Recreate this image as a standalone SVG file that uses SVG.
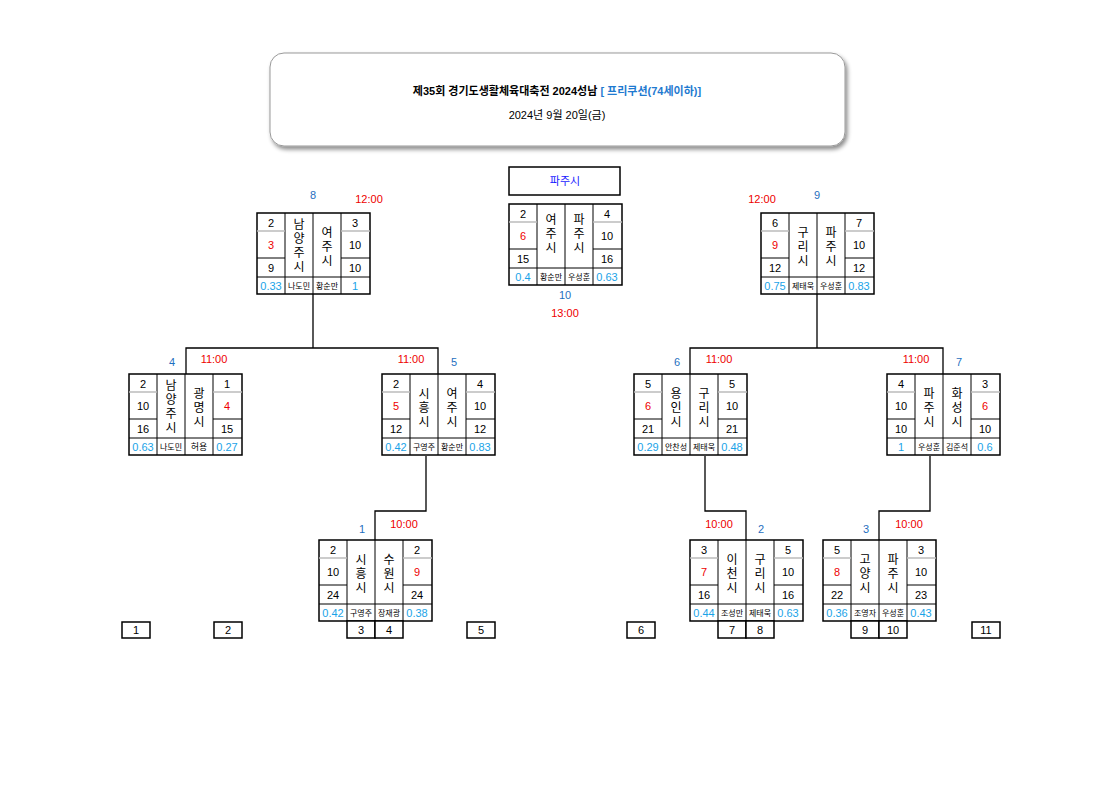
<svg xmlns="http://www.w3.org/2000/svg" width="1120" height="792" viewBox="0 0 1120 792">
<defs>
<style>
text{font-family:"Liberation Sans","Noto Sans CJK KR",sans-serif;text-anchor:middle;font-size:11px;fill:#000}
.b{fill:#fff;stroke:#000;stroke-width:1.5}
.l{stroke:#000;stroke-width:1}
.g{stroke:#bbb;stroke-width:1.5}
.r{fill:#e00}
.c{fill:#1aa3e8}
.bl{fill:#1f6fc0}
.p{font-size:8px}
.nm{font-size:12px}
.cn{fill:none;stroke:#000;stroke-width:1.3}
</style>
<filter id="sh" x="-5%" y="-10%" width="115%" height="130%"><feDropShadow dx="2" dy="3" stdDeviation="2" flood-color="#000" flood-opacity="0.45"/></filter>
<g id="frame">
<rect class="b" x="0" y="0" width="113" height="81"/>
<line class="l" x1="28" y1="0" x2="28" y2="81"/><line class="l" x1="56" y1="0" x2="56" y2="81"/><line class="l" x1="84" y1="0" x2="84" y2="81"/>
<line class="g" x1="0" y1="18" x2="28" y2="18"/><line class="g" x1="84" y1="18" x2="113" y2="18"/>
<line class="l" x1="0" y1="45" x2="28" y2="45"/><line class="l" x1="84" y1="45" x2="113" y2="45"/>
<line class="l" x1="0" y1="64" x2="113" y2="64"/>
</g>
</defs>
<rect width="1120" height="792" fill="#fff"/>
<g id="title">
<rect x="270" y="53" width="575" height="93" rx="14" fill="#fff" stroke="#999" filter="url(#sh)"/>
<text x="557" y="95" font-size="14" font-weight="bold">제35회 경기도생활체육대축전 2024성남 <tspan fill="#1f7ad0">[ 프리쿠션(74세이하)]</tspan></text>
<text x="557" y="119" font-size="11">2024년 9월 20일(금)</text>
</g>
<g id="final-header"><rect class="b" x="509" y="167" width="111" height="28"/><text x="565" y="185" font-size="10" fill="#1a1aff" style="fill:#1a1aff">파주시</text></g>

<g id="connectors">
<path class="cn" d="M313 294V348M186 374V348H438V374"/>
<path class="cn" d="M426 456V511H375V540"/>
<path class="cn" d="M817 294V348M690 374V348H943V374"/>
<path class="cn" d="M705 456V511H746V540"/>
<path class="cn" d="M930 456V511H879V540"/>
</g>

<g id="m8" transform="translate(257,213)"><use href="#frame"/>
<text x="14" y="14">2</text><text x="14" y="36" class="r">3</text><text x="14" y="59">9</text><text x="14" y="77" class="c">0.33</text>
<text x="42" y="16" class="nm">남</text><text x="42" y="30" class="nm">양</text><text x="42" y="44" class="nm">주</text><text x="42" y="58" class="nm">시</text>
<text x="70" y="24" class="nm">여</text><text x="70" y="38" class="nm">주</text><text x="70" y="52" class="nm">시</text>
<text x="98" y="14">3</text><text x="98" y="36">10</text><text x="98" y="59">10</text><text x="98" y="77" class="c">1</text>
<text x="42" y="76" class="p">나도민</text><text x="70" y="76" class="p">황순만</text>
<text x="56" y="-14" class="bl">8</text><text x="112" y="-10" class="r">12:00</text></g>

<g id="m10" transform="translate(509,204)"><use href="#frame"/>
<text x="14" y="14">2</text><text x="14" y="36" class="r">6</text><text x="14" y="59">15</text><text x="14" y="77" class="c">0.4</text>
<text x="42" y="20" class="nm">여</text><text x="42" y="34" class="nm">주</text><text x="42" y="48" class="nm">시</text>
<text x="70" y="20" class="nm">파</text><text x="70" y="34" class="nm">주</text><text x="70" y="48" class="nm">시</text>
<text x="98" y="14">4</text><text x="98" y="36">10</text><text x="98" y="59">16</text><text x="98" y="77" class="c">0.63</text>
<text x="42" y="76" class="p">황순만</text><text x="70" y="76" class="p">우성훈</text>
<text x="56" y="95" class="bl">10</text><text x="56" y="113" class="r">13:00</text></g>

<g id="m9" transform="translate(761,213)"><use href="#frame"/>
<text x="14" y="14">6</text><text x="14" y="36" class="r">9</text><text x="14" y="59">12</text><text x="14" y="77" class="c">0.75</text>
<text x="42" y="24" class="nm">구</text><text x="42" y="38" class="nm">리</text><text x="42" y="52" class="nm">시</text>
<text x="70" y="24" class="nm">파</text><text x="70" y="38" class="nm">주</text><text x="70" y="52" class="nm">시</text>
<text x="98" y="14">7</text><text x="98" y="36">10</text><text x="98" y="59">12</text><text x="98" y="77" class="c">0.83</text>
<text x="42" y="76" class="p">제태욱</text><text x="70" y="76" class="p">우성훈</text>
<text x="1" y="-10" class="r">12:00</text><text x="56" y="-14" class="bl">9</text></g>

<g id="m4" transform="translate(129,374)"><use href="#frame"/>
<text x="14" y="14">2</text><text x="14" y="36">10</text><text x="14" y="59">16</text><text x="14" y="77" class="c">0.63</text>
<text x="42" y="16" class="nm">남</text><text x="42" y="30" class="nm">양</text><text x="42" y="44" class="nm">주</text><text x="42" y="58" class="nm">시</text>
<text x="70" y="24" class="nm">광</text><text x="70" y="38" class="nm">명</text><text x="70" y="52" class="nm">시</text>
<text x="98" y="14">1</text><text x="98" y="36" class="r">4</text><text x="98" y="59">15</text><text x="98" y="77" class="c">0.27</text>
<text x="42" y="76" class="p">나도민</text><text x="70" y="76" class="p" style="font-size:9px">허용</text>
<text x="43" y="-8" class="bl">4</text><text x="85" y="-11" class="r">11:00</text></g>

<g id="m5" transform="translate(382,374)"><use href="#frame"/>
<text x="14" y="14">2</text><text x="14" y="36" class="r">5</text><text x="14" y="59">12</text><text x="14" y="77" class="c">0.42</text>
<text x="42" y="24" class="nm">시</text><text x="42" y="38" class="nm">흥</text><text x="42" y="52" class="nm">시</text>
<text x="70" y="24" class="nm">여</text><text x="70" y="38" class="nm">주</text><text x="70" y="52" class="nm">시</text>
<text x="98" y="14">4</text><text x="98" y="36">10</text><text x="98" y="59">12</text><text x="98" y="77" class="c">0.83</text>
<text x="42" y="76" class="p">구영주</text><text x="70" y="76" class="p">황순만</text>
<text x="29" y="-11" class="r">11:00</text><text x="72" y="-8" class="bl">5</text></g>

<g id="m6" transform="translate(634,374)"><use href="#frame"/>
<text x="14" y="14">5</text><text x="14" y="36" class="r">6</text><text x="14" y="59">21</text><text x="14" y="77" class="c">0.29</text>
<text x="42" y="24" class="nm">용</text><text x="42" y="38" class="nm">인</text><text x="42" y="52" class="nm">시</text>
<text x="70" y="24" class="nm">구</text><text x="70" y="38" class="nm">리</text><text x="70" y="52" class="nm">시</text>
<text x="98" y="14">5</text><text x="98" y="36">10</text><text x="98" y="59">21</text><text x="98" y="77" class="c">0.48</text>
<text x="42" y="76" class="p">안찬성</text><text x="70" y="76" class="p">제태욱</text>
<text x="43" y="-8" class="bl">6</text><text x="85" y="-11" class="r">11:00</text></g>

<g id="m7" transform="translate(887,374)"><use href="#frame"/>
<text x="14" y="14">4</text><text x="14" y="36">10</text><text x="14" y="59">10</text><text x="14" y="77" class="c">1</text>
<text x="42" y="24" class="nm">파</text><text x="42" y="38" class="nm">주</text><text x="42" y="52" class="nm">시</text>
<text x="70" y="24" class="nm">화</text><text x="70" y="38" class="nm">성</text><text x="70" y="52" class="nm">시</text>
<text x="98" y="14">3</text><text x="98" y="36" class="r">6</text><text x="98" y="59">10</text><text x="98" y="77" class="c">0.6</text>
<text x="42" y="76" class="p">우성훈</text><text x="70" y="76" class="p">김준석</text>
<text x="29" y="-11" class="r">11:00</text><text x="72" y="-8" class="bl">7</text></g>

<g id="m1" transform="translate(319,540)"><use href="#frame"/>
<text x="14" y="14">2</text><text x="14" y="36">10</text><text x="14" y="59">24</text><text x="14" y="77" class="c">0.42</text>
<text x="42" y="24" class="nm">시</text><text x="42" y="38" class="nm">흥</text><text x="42" y="52" class="nm">시</text>
<text x="70" y="24" class="nm">수</text><text x="70" y="38" class="nm">원</text><text x="70" y="52" class="nm">시</text>
<text x="98" y="14">2</text><text x="98" y="36" class="r">9</text><text x="98" y="59">24</text><text x="98" y="77" class="c">0.38</text>
<text x="42" y="76" class="p">구영주</text><text x="70" y="76" class="p">장재광</text>
<text x="43" y="-7" class="bl">1</text><text x="85" y="-12" class="r">10:00</text></g>

<g id="m2" transform="translate(690,540)"><use href="#frame"/>
<text x="14" y="14">3</text><text x="14" y="36" class="r">7</text><text x="14" y="59">16</text><text x="14" y="77" class="c">0.44</text>
<text x="42" y="24" class="nm">이</text><text x="42" y="38" class="nm">천</text><text x="42" y="52" class="nm">시</text>
<text x="70" y="24" class="nm">구</text><text x="70" y="38" class="nm">리</text><text x="70" y="52" class="nm">시</text>
<text x="98" y="14">5</text><text x="98" y="36">10</text><text x="98" y="59">16</text><text x="98" y="77" class="c">0.63</text>
<text x="42" y="76" class="p">조성만</text><text x="70" y="76" class="p">제태욱</text>
<text x="29" y="-12" class="r">10:00</text><text x="71" y="-7" class="bl">2</text></g>

<g id="m3" transform="translate(823,540)"><use href="#frame"/>
<text x="14" y="14">5</text><text x="14" y="36" class="r">8</text><text x="14" y="59">22</text><text x="14" y="77" class="c">0.36</text>
<text x="42" y="24" class="nm">고</text><text x="42" y="38" class="nm">양</text><text x="42" y="52" class="nm">시</text>
<text x="70" y="24" class="nm">파</text><text x="70" y="38" class="nm">주</text><text x="70" y="52" class="nm">시</text>
<text x="98" y="14">3</text><text x="98" y="36">10</text><text x="98" y="59">23</text><text x="98" y="77" class="c">0.43</text>
<text x="42" y="76" class="p">조영자</text><text x="70" y="76" class="p">우성훈</text>
<text x="43" y="-7" class="bl">3</text><text x="86" y="-12" class="r">10:00</text></g>

<g id="slots">
<rect class="b" x="122" y="622" width="28" height="16"/><text x="136" y="634">1</text>
<rect class="b" x="214" y="622" width="28" height="16"/><text x="228" y="634">2</text>
<rect class="b" x="347" y="621" width="28" height="17"/><text x="361" y="634">3</text>
<rect class="b" x="375" y="621" width="28" height="17"/><text x="389" y="634">4</text>
<rect class="b" x="467" y="622" width="28" height="16"/><text x="481" y="634">5</text>
<rect class="b" x="627" y="622" width="28" height="16"/><text x="641" y="634">6</text>
<rect class="b" x="718" y="621" width="28" height="17"/><text x="732" y="634">7</text>
<rect class="b" x="746" y="621" width="28" height="17"/><text x="760" y="634">8</text>
<rect class="b" x="851" y="621" width="28" height="17"/><text x="865" y="634">9</text>
<rect class="b" x="879" y="621" width="28" height="17"/><text x="893" y="634">10</text>
<rect class="b" x="972" y="622" width="28" height="16"/><text x="986" y="634">11</text>
</g>
</svg>
